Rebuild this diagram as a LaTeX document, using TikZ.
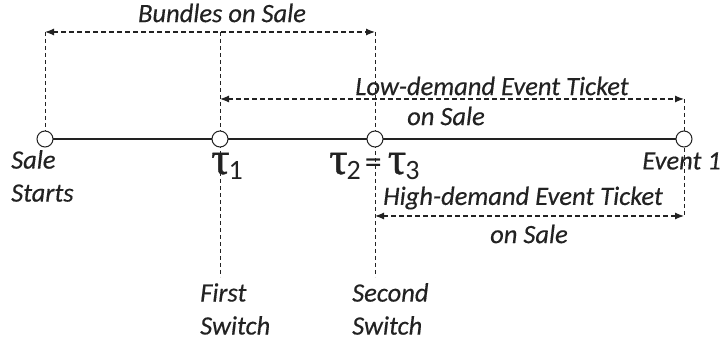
\documentclass[tikz,border=0pt]{standalone}
\usepackage{fontspec}
\setmainfont{Carlito}[ItalicFeatures={FakeBold=0.35}]
\newfontfamily\taufont{Liberation Serif}[FakeBold=0.8]
\usetikzlibrary{arrows.meta}
\definecolor{ink}{HTML}{222222}
% tau with a lowered index
\newcommand{\tauidx}[1]{{\fontsize{46}{46}\taufont τ}\kern-1pt\raisebox{-6pt}{\fontsize{28}{28}\selectfont #1}}
\begin{document}
\begin{tikzpicture}[x=1pt,y=-1pt,
  every node/.style={text=ink},
  lbl/.style={font=\fontsize{26.5}{33}\selectfont\itshape, align=center, inner sep=0pt},
  taulbl/.style={font=\fontsize{34}{40}\selectfont, inner sep=0pt, anchor=base west},
  dot/.style={circle, draw=ink, fill=white, line width=1pt, minimum size=16pt, inner sep=0pt},
  guide/.style={draw=ink, line width=0.8pt, dash pattern=on 4pt off 3pt},
  span/.style={draw=ink, line width=1.2pt, dash pattern=on 5pt off 3pt, {Latex[length=9pt,width=7pt]}-{Latex[length=9pt,width=7pt]}},
  axis/.style={draw=ink, line width=2pt}]
\useasboundingbox (0,0) rectangle (724,347);

% milestones on the timeline
\coordinate (s0c) at (45,139);
\coordinate (t1c) at (220,139);
\coordinate (t2c) at (375,139);
\coordinate (evc) at (684,139);

% ends of the guide lines and spans
\coordinate (b0) at (45,32);
\coordinate (b1) at (220,32);
\coordinate (b2) at (375,32);
\coordinate (l1) at (220,99);
\coordinate (l2) at (684,99);
\coordinate (h1) at (375,216);
\coordinate (h2) at (684,216);
\coordinate (f1) at (220,277);
\coordinate (f2) at (375,277);

% vertical guides
\draw[guide] (b0) -- (s0c);
\draw[guide] (b1) -- (f1);
\draw[guide] (b2) -- (f2);
\draw[guide] (l2) -- (h2);

% timeline
\draw[axis] (s0c) -- (evc);
\node[dot] (s0) at (s0c) {};
\node[dot] (t1) at (t1c) {};
\node[dot] (t2) at (t2c) {};
\node[dot] (ev) at (evc) {};

% sale windows
\draw[span] (b0) -- (b2);
\node[lbl] (bl) at (222,13) {Bundles on Sale};
\draw[span] (l1) -- (l2);
\node[lbl] (ll1) at (492,86) {Low-demand Event Ticket};
\node[lbl] (ll2) at (446,116) {on Sale};
\draw[span] (h1) -- (h2);
\node[lbl] (hl1) at (523,198) {High-demand Event Ticket};
\node[lbl] (hl2) at (529,234) {on Sale};

% milestone labels
\node[lbl, align=left, anchor=west] (sl) at (11,176) {Sale\\Starts};
\node[taulbl] (tl1) at (211,174) {\tauidx{1}};
\node[taulbl] (tl2) at (329,174) {\tauidx{2}\kern4pt=\kern6pt\tauidx{3}};
\node[lbl, anchor=east] (el) at (721,161) {Event 1};
\node[lbl, align=left, anchor=west] (fs) at (200,309) {First\\Switch};
\node[lbl, align=left, anchor=west] (ss) at (352,309) {Second\\Switch};
\end{tikzpicture}
\end{document}
